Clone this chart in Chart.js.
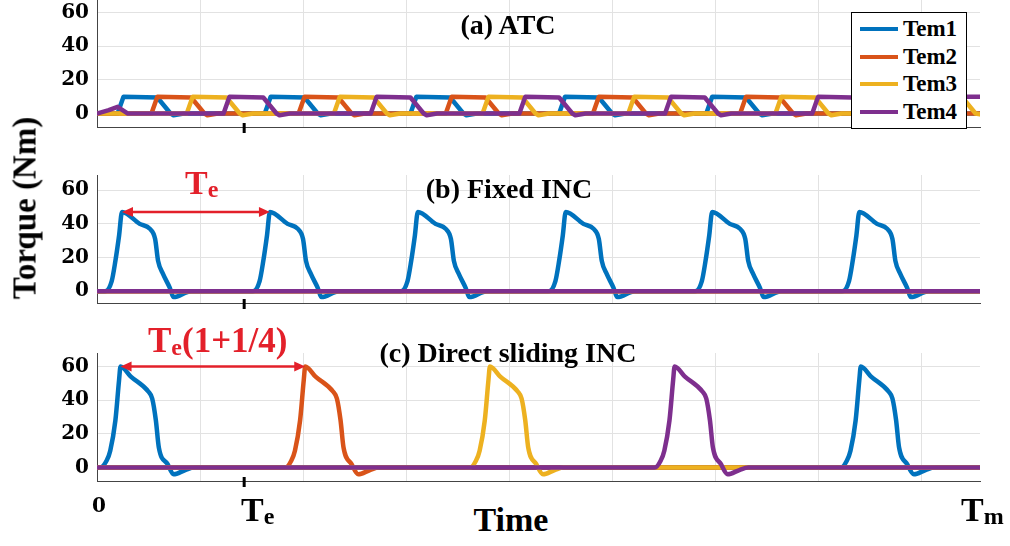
<!DOCTYPE html>
<html>
<head>
<meta charset="utf-8">
<script src="https://cdn.jsdelivr.net/npm/chart.js@4.4.1/dist/chart.umd.min.js"></script>
<style>
  html, body { margin: 0; padding: 0; background: #fff; }
  body { width: 1010px; height: 546px; position: relative; overflow: hidden; font-family: "Liberation Serif", "Times New Roman", serif; }
  canvas.panel { position: absolute; left: 0; }
  .txt { position: absolute; white-space: nowrap; font-weight: bold; color: #000; line-height: 1; }
  .title { font-size: 28px; transform: translateX(-50%); }
  .red { color: #e3202a; }
  .sub { font-size: 24px; position: relative; top: 3px; }
  #legend { position: absolute; left: 851px; top: 12px; width: 114px; height: 115px; border: 1px solid #000; background: #fff; }
  #legend .row { position: absolute; left: 0; width: 114px; height: 24px; }
  #legend .swatch { position: absolute; left: 8px; top: 10px; width: 38px; height: 4px; }
  #legend .lab { position: absolute; left: 51px; top: 0; font-size: 23px; font-weight: bold; line-height: 24px; }
</style>
</head>
<body>
<canvas id="panelA" class="panel" width="1010" height="168" style="top:-21px"></canvas>
<canvas id="panelB" class="panel" width="1010" height="168" style="top:155px"></canvas>
<canvas id="panelC" class="panel" width="1010" height="168" style="top:333px"></canvas>

<div class="txt title" style="left:508px; top:11px">(a) ATC</div>
<div class="txt title" style="left:509px; top:175px">(b) Fixed INC</div>
<div class="txt title" style="left:508px; top:339px">(c) Direct sliding INC</div>

<div class="txt red" style="left:185px; top:166px; font-size:34px">T<span class="sub">e</span></div>
<div class="txt red" style="left:148px; top:323px; font-size:35px">T<span class="sub">e</span>(1+1/4)</div>

<div class="txt" style="left:25px; top:208px; font-size:33px; transform: translate(-50%, -50%) rotate(-90deg)">Torque (Nm)</div>

<div class="txt" style="left:99px; top:495px; font-size:20px; font-family:'DejaVu Serif', serif; transform: translateX(-50%)">0</div>
<div class="txt" style="left:241px; top:493px; font-size:34px">T<span class="sub" style="font-size:24px">e</span></div>
<div class="txt" style="left:961px; top:493px; font-size:34px">T<span class="sub" style="font-size:24px">m</span></div>
<div class="txt" style="left:511px; top:503px; font-size:34px; transform: translateX(-50%)">Time</div>

<div id="legend"></div>

<script>
// time axis in units of Te, Tm = 6 Te
const xMax = 6;
const teTick = 1;
const xGrid = [0, 0.7, 1.4, 2.1, 2.8, 3.5, 4.2, 4.9, 5.6];
const yTicks = [0, 20, 40, 60];

const temNames = ['Tem1', 'Tem2', 'Tem3', 'Tem4'];
const temColors = ['#0072BD', '#D95319', '#EDB120', '#7E2F8E'];

// (a) ATC  [time, torque]
const atcTem1 = [[0,0],
  [0.14,0],[0.18,10],[0.41,9.5],[0.50,0],[0.52,-1],[0.59,0],
  [1.14,0],[1.18,10],[1.41,9.5],[1.50,0],[1.52,-1],[1.59,0],
  [2.13,0],[2.17,10],[2.40,9.5],[2.49,0],[2.51,-1],[2.58,0],
  [3.14,0],[3.18,10],[3.41,9.5],[3.50,0],[3.52,-1],[3.59,0],
  [4.14,0],[4.18,10],[4.41,9.5],[4.50,0],[4.52,-1],[4.59,0],
  [5.14,0],[5.18,10],[5.41,9.5],[5.50,0],[5.52,-1],[5.59,0],
  [6,0]];
const atcTem2 = [[0,0],
  [0.37,0],[0.41,10],[0.64,9.5],[0.73,0],[0.75,-1],[0.82,0],
  [1.37,0],[1.41,10],[1.64,9.5],[1.73,0],[1.75,-1],[1.82,0],
  [2.37,0],[2.41,10],[2.64,9.5],[2.73,0],[2.75,-1],[2.82,0],
  [3.37,0],[3.41,10],[3.64,9.5],[3.73,0],[3.75,-1],[3.82,0],
  [4.37,0],[4.41,10],[4.64,9.5],[4.73,0],[4.75,-1],[4.82,0],
  [5.37,0],[5.41,10],[5.64,9.5],[5.73,0],[5.75,-1],[5.82,0],
  [6,0]];
const atcTem3 = [[0,0],
  [0.61,0],[0.65,10],[0.88,9.5],[0.97,0],[0.99,-1],[1.06,0],
  [1.61,0],[1.65,10],[1.88,9.5],[1.97,0],[1.99,-1],[2.06,0],
  [2.62,0],[2.66,10],[2.89,9.5],[2.98,0],[3.00,-1],[3.07,0],
  [3.61,0],[3.65,10],[3.88,9.5],[3.97,0],[3.99,-1],[4.06,0],
  [4.61,0],[4.65,10],[4.88,9.5],[4.97,0],[4.99,-1],[5.06,0],
  [5.61,0],[5.65,10],[5.88,9.5],[5.97,0],
  [6,-0.5]];
const atcTem4 = [[0,0],[0.08,2],[0.14,4],[0.21,0],
  [0.86,0],[0.90,10],[1.13,9.5],[1.22,0],[1.24,-1],[1.31,0],
  [1.86,0],[1.90,10],[2.13,9.5],[2.22,0],[2.24,-1],[2.31,0],
  [2.87,0],[2.91,10],[3.14,9.5],[3.23,0],[3.25,-1],[3.32,0],
  [3.86,0],[3.90,10],[4.13,9.5],[4.22,0],[4.24,-1],[4.31,0],
  [4.86,0],[4.90,10],[5.13,9.5],[5.22,0],[5.24,-1],[5.31,0],
  [5.86,0],[5.90,10],[6,10]];

// (b) Fixed INC
const fixTem1 = [[0,0],
  [0.055,0],[0.10,6],[0.125,18],[0.15,33],[0.17,47],[0.29,40],[0.36,37],[0.395,31],[0.415,18],[0.45,10],[0.495,2],[0.52,-3.5],[0.64,0],
  [1.06,0],[1.105,6],[1.13,18],[1.155,33],[1.175,47],[1.295,40],[1.365,37],[1.40,31],[1.42,18],[1.455,10],[1.50,2],[1.525,-3.5],[1.645,0],
  [2.065,0],[2.11,6],[2.135,18],[2.16,33],[2.18,47],[2.30,40],[2.37,37],[2.405,31],[2.425,18],[2.46,10],[2.505,2],[2.53,-3.5],[2.65,0],
  [3.07,0],[3.115,6],[3.14,18],[3.165,33],[3.185,47],[3.305,40],[3.375,37],[3.41,31],[3.43,18],[3.465,10],[3.51,2],[3.535,-3.5],[3.655,0],
  [4.065,0],[4.11,6],[4.135,18],[4.16,33],[4.18,47],[4.30,40],[4.37,37],[4.405,31],[4.425,18],[4.46,10],[4.505,2],[4.53,-3.5],[4.65,0],
  [5.065,0],[5.11,6],[5.135,18],[5.16,33],[5.18,47],[5.30,40],[5.37,37],[5.405,31],[5.425,18],[5.46,10],[5.505,2],[5.53,-3.5],[5.65,0],
  [6,0]];
const fixTem2 = [[0,0],[6,0]];
const fixTem3 = [[0,0],[6,0]];
const fixTem4 = [[0,0],[6,0]];

// (c) Direct sliding INC
const dsTem1 = [[0,0],
  [0.02,0],[0.065,4],[0.09,10],[0.125,28],[0.15,52],[0.16,60],[0.23,54],[0.35,45],[0.375,41],[0.40,28],[0.42,12],[0.48,2],[0.52,-4],[0.60,-1.5],[0.66,0],
  [5.055,0],[5.095,4],[5.12,10],[5.155,28],[5.18,52],[5.19,60],[5.26,54],[5.38,45],[5.405,41],[5.43,28],[5.45,12],[5.505,2],[5.55,-4],[5.63,-1.5],[5.69,0],
  [6,0]];
const dsTem2 = [[0,0],
  [1.28,0],[1.32,4],[1.345,10],[1.38,28],[1.405,52],[1.415,60],[1.485,54],[1.605,45],[1.63,41],[1.655,28],[1.675,12],[1.73,2],[1.775,-4],[1.855,-1.5],[1.915,0],
  [6,0]];
const dsTem3 = [[0,0],
  [2.535,0],[2.575,4],[2.60,10],[2.635,28],[2.66,52],[2.67,60],[2.74,54],[2.86,45],[2.885,41],[2.91,28],[2.93,12],[2.985,2],[3.03,-4],[3.11,-1.5],[3.17,0],
  [6,0]];
const dsTem4 = [[0,0],
  [3.79,0],[3.83,4],[3.855,10],[3.89,28],[3.915,52],[3.925,60],[3.995,54],[4.115,45],[4.14,41],[4.165,28],[4.185,12],[4.24,2],[4.285,-4],[4.365,-1.5],[4.425,0],
  [6,0]];

// period arrows: from one peak to the next
const arrowB = { x0: 0.17, x1: 1.175, y: 47 };
const arrowC = { x0: 0.16, x1: 1.415, y: 60 };

const marks = {
  id: 'marks',
  afterDatasetsDraw(chart, args, opts) {
    const { ctx, chartArea } = chart;
    const x = chart.scales.x, y = chart.scales.y;
    ctx.save();
    const px = x.getPixelForValue(teTick);
    ctx.strokeStyle = '#000';
    ctx.lineWidth = 3;
    ctx.beginPath();
    ctx.moveTo(px, chartArea.bottom - 4);
    ctx.lineTo(px, chartArea.bottom + 6);
    ctx.stroke();
    const a = opts.arrow;
    if (a) {
      const x0 = x.getPixelForValue(a.x0), x1 = x.getPixelForValue(a.x1), py = y.getPixelForValue(a.y);
      ctx.strokeStyle = '#e3202a';
      ctx.fillStyle = '#e3202a';
      ctx.lineWidth = 2.5;
      ctx.beginPath();
      ctx.moveTo(x0 + 6, py);
      ctx.lineTo(x1 - 6, py);
      ctx.stroke();
      ctx.beginPath();
      ctx.moveTo(x0, py); ctx.lineTo(x0 + 11, py - 5); ctx.lineTo(x0 + 11, py + 5); ctx.closePath();
      ctx.fill();
      ctx.beginPath();
      ctx.moveTo(x1, py); ctx.lineTo(x1 - 11, py - 5); ctx.lineTo(x1 - 11, py + 5); ctx.closePath();
      ctx.fill();
    }
    ctx.restore();
  }
};

const buildPanel = (id, series, yMin, yMax, smooth, arrow) => {
  const datasets = series.map((pts, i) => ({
    label: temNames[i],
    data: pts.map(p => ({ x: p[0], y: p[1] })),
    borderColor: temColors[i],
    backgroundColor: temColors[i],
    borderWidth: 4.5,
    pointRadius: 0,
    fill: false,
    cubicInterpolationMode: smooth ? 'monotone' : 'default',
    tension: 0,
    order: 4 - i
  }));
  const gridColor = '#e2e2e2';
  return new Chart(document.getElementById(id), {
    type: 'line',
    data: { datasets },
    plugins: [marks],
    options: {
      responsive: false,
      animation: false,
      events: [],
      layout: { padding: { top: 20, right: 30, bottom: 4, left: 0 } },
      plugins: { legend: { display: false }, tooltip: { enabled: false }, marks: { arrow } },
      elements: { line: { borderJoinStyle: 'round', borderCapStyle: 'round' } },
      scales: {
        x: {
          type: 'linear', min: 0, max: xMax,
          afterBuildTicks: s => { s.ticks = xGrid.map(v => ({ value: v })); },
          afterFit: s => { s.height = 12; },
          ticks: { display: false },
          grid: { color: gridColor, drawTicks: false },
          border: { color: '#444', width: 1 }
        },
        y: {
          type: 'linear', min: yMin, max: yMax,
          afterBuildTicks: s => { s.ticks = yTicks.map(v => ({ value: v })); },
          afterFit: s => { s.width = 97; },
          ticks: { color: '#000', padding: 8, font: { family: 'DejaVu Serif', weight: 'bold', size: 20 } },
          grid: { color: gridColor, drawTicks: false },
          border: { color: '#444', width: 1 }
        }
      }
    }
  });
};

buildPanel('panelA', [atcTem1, atcTem2, atcTem3, atcTem4], -8, 68, false, null);
buildPanel('panelB', [fixTem1, fixTem2, fixTem3, fixTem4], -7, 69, true, arrowB);
buildPanel('panelC', [dsTem1, dsTem2, dsTem3, dsTem4], -8, 68, true, arrowC);

// legend box
const legend = document.getElementById('legend');
const rowTops = [4, 32, 59, 87];
temNames.forEach((name, i) => {
  const row = document.createElement('div');
  row.className = 'row';
  row.style.top = rowTops[i] + 'px';
  row.innerHTML = `<div class="swatch" style="background:${temColors[i]}"></div><div class="lab">${name}</div>`;
  legend.appendChild(row);
});
</script>
</body>
</html>
